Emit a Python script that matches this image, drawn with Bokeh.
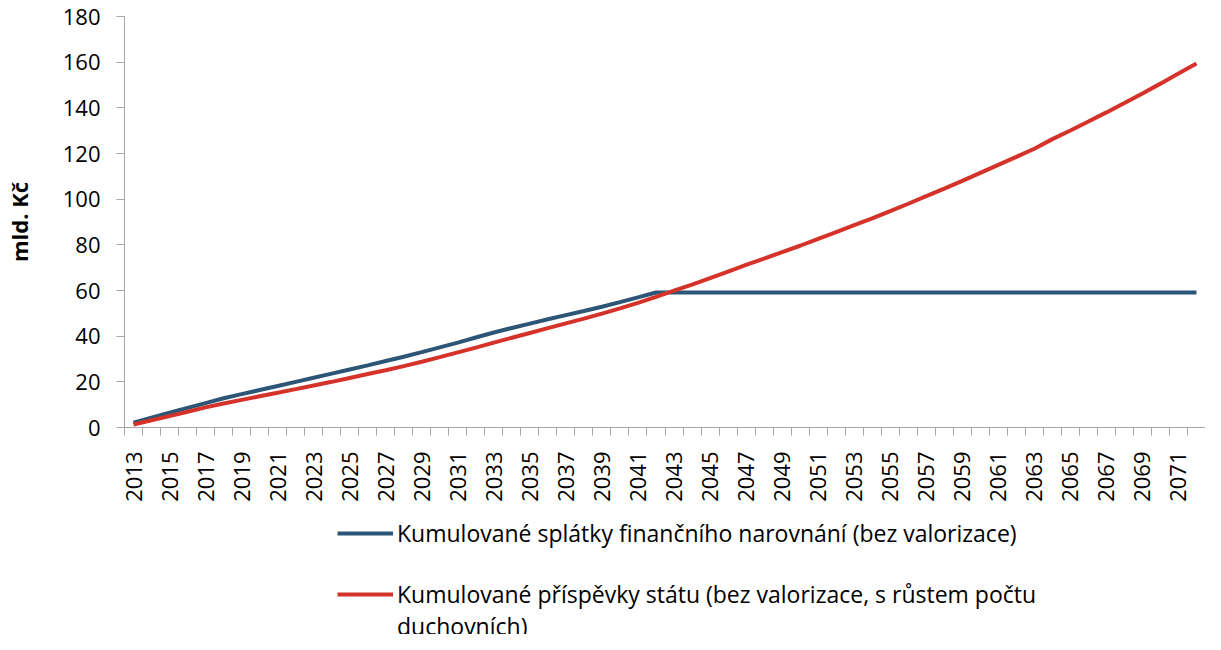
import math
from bokeh.plotting import figure
from bokeh.layouts import column
from bokeh.models import FixedTicker, Range1d, Legend, LegendItem
from bokeh.embed import file_html
from bokeh.resources import INLINE

years = list(range(2013, 2073))

splatky = [2.1, 4.3, 6.5, 8.6, 10.7, 12.8, 14.6, 16.4, 18.2, 20.0,
           21.8, 23.6, 25.4, 27.2, 29.1, 31.0, 33.0, 35.1, 37.2, 39.4,
           41.6, 43.6, 45.5, 47.4, 49.2, 51.0, 52.9, 54.9, 57.0, 59.1,
           59.1, 59.1, 59.1, 59.1, 59.1, 59.1, 59.1, 59.1, 59.1, 59.1,
           59.1, 59.1, 59.1, 59.1, 59.1, 59.1, 59.1, 59.1, 59.1, 59.1,
           59.1, 59.1, 59.1, 59.1, 59.1, 59.1, 59.1, 59.1, 59.1, 59.1]

prispevky = [1.3, 3.2, 5.0, 6.9, 8.8, 10.5, 12.1, 13.7, 15.2, 16.8,
             18.4, 20.0, 21.7, 23.4, 25.1, 26.9, 28.8, 30.8, 32.9, 35.0,
             37.2, 39.3, 41.4, 43.5, 45.6, 47.7, 49.9, 52.2, 54.6, 57.2,
             59.9, 62.6, 65.4, 68.3, 71.2, 74.0, 76.8, 79.6, 82.6, 85.6,
             88.6, 91.6, 94.8, 98.0, 101.3, 104.6, 108.0, 111.5, 115.0, 118.5,
             122.1, 126.3, 130.1, 134.0, 138.0, 142.1, 146.3, 150.6, 155.0, 159.4]

y_ticks = [0, 20, 40, 60, 80, 100, 120, 140, 160, 180]
y_label = "mld. Kč"
series_names = [
    "Kumulované splátky finančního narovnání (bez valorizace)",
    "Kumulované příspěvky státu (bez valorizace, s růstem počtu",
]
name_continuation = "duchovních)"
colors = ["#2D5576", "#D5322A"]

FONT = "Open Sans"
n = len(years)
xs = [i + 0.5 for i in range(n)]

P_H = 506
TOTAL_H = 634

p = figure(width=1205, height=P_H, output_backend="svg", toolbar_location=None,
           x_range=Range1d(0, n), y_range=Range1d(0, 180),
           min_border_left=115, min_border_top=16, min_border_right=0,
           min_border_bottom=P_H - 16 - 411)
p.outline_line_color = None
p.xgrid.visible = False
p.ygrid.visible = False
p.background_fill_color = "white"
p.border_fill_color = "white"

p.line(xs, splatky, line_color=colors[0], line_width=4)
p.line(xs, prispevky, line_color=colors[1], line_width=4)

ax = p.xaxis[0]
ax.ticker = FixedTicker(ticks=[i + 0.5 for i in range(0, n, 2)],
                        minor_ticks=list(range(0, n + 1)))
ax.major_label_overrides = {i + 0.5: str(years[i]) for i in range(0, n, 2)}
ax.major_label_orientation = math.pi / 2
ax.major_tick_line_color = None
ax.major_tick_out = 8
ax.major_tick_in = 0
ax.minor_tick_out = 8
ax.minor_tick_in = 0
ax.minor_tick_line_color = "#A6A6A6"
ax.axis_line_color = "#A6A6A6"
ax.major_label_standoff = 16
ax.major_label_text_font = FONT
ax.major_label_text_font_size = "22px"
ax.major_label_text_color = "#000000"

ay = p.yaxis[0]
ay.ticker = FixedTicker(ticks=y_ticks)
ay.minor_tick_line_color = None
ay.major_tick_out = 8
ay.major_tick_in = 0
ay.major_tick_line_color = "#A6A6A6"
ay.axis_line_color = "#A6A6A6"
ay.major_label_standoff = 16
ay.major_label_text_font = FONT
ay.major_label_text_font_size = "22px"
ay.major_label_text_color = "#000000"
ay.axis_label = y_label
ay.axis_label_text_font = FONT
ay.axis_label_text_font_style = "bold"
ay.axis_label_text_font_size = "22px"
ay.axis_label_text_color = "#000000"
ay.axis_label_standoff = 26

# legend figure below the chart (series drawn out of its visible range,
# only their legend glyphs show)
p2 = figure(width=1205, height=TOTAL_H - P_H, output_backend="svg", toolbar_location=None,
            x_range=Range1d(0, n), y_range=Range1d(-20, -10),
            x_axis_location=None, y_axis_location=None,
            min_border_left=0, min_border_right=0, min_border_top=0, min_border_bottom=0)
p2.outline_line_color = None
p2.xgrid.visible = False
p2.ygrid.visible = False
p2.background_fill_color = "white"
p2.border_fill_color = "white"

l1 = p2.line(xs, splatky, line_color=colors[0], line_width=4)
l2 = p2.line(xs, prispevky, line_color=colors[1], line_width=4)
blank = p2.line(xs, splatky, line_alpha=0)

STEP = 29
first_center = 538 - P_H          # from top of legend figure
legend_top = first_center - STEP / 2
legend_h = 4 * STEP
loc_y = (TOTAL_H - P_H) - (legend_top + legend_h) - 2

legend = Legend(items=[LegendItem(label=series_names[0], renderers=[l1]),
                       LegendItem(label=" ", renderers=[blank]),
                       LegendItem(label=series_names[1], renderers=[l2]),
                       LegendItem(label=name_continuation, renderers=[blank])],
                location=(213, loc_y), orientation="vertical")
legend.border_line_color = None
legend.background_fill_alpha = 0
legend.padding = 0
legend.margin = 0
legend.spacing = 0
legend.glyph_width = 56
legend.glyph_height = 20
legend.label_standoff = 4
legend.label_text_font = FONT
legend.label_text_font_size = "23px"
legend.label_text_color = "#000000"
legend.label_height = STEP
p2.add_layout(legend, "center")

layout = column(p, p2, spacing=0)
open("out.html", "w").write(file_html(layout, INLINE))
